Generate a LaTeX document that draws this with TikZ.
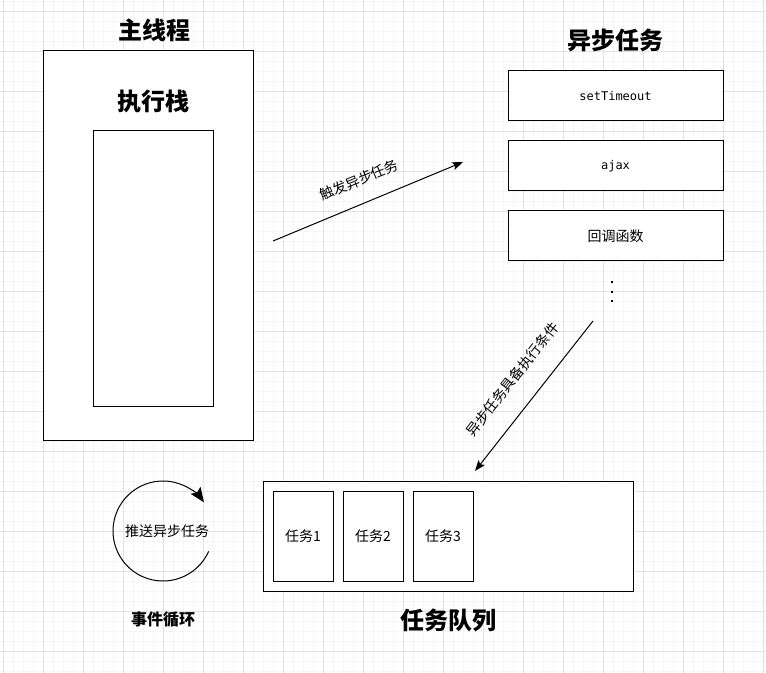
\documentclass[tikz,border=0pt]{standalone}
\usepackage{fontspec}
\setmainfont{Noto Sans CJK SC}
\setmonofont{DejaVu Sans Mono}
\usepackage{tikz}
\usetikzlibrary{positioning,arrows.meta}
\definecolor{gridminor}{RGB}{246, 246, 246}
\definecolor{gridmajor}{RGB}{226, 226, 226}

\begin{document}
\begin{tikzpicture}[
    x=0.75pt, y=-0.75pt,
    node distance=7.5pt,
    box/.style={
        rectangle, draw=black, fill=white,
        line width=0.75pt, inner sep=0pt, outer sep=0pt
    },
    title/.style={font=\fontsize{18}{21}\selectfont\bfseries},
    subtitle/.style={font=\fontsize{12}{14}\selectfont\bfseries},
    label/.style={font=\fontsize{10.5}{12}\selectfont},
    code/.style={font=\ttfamily\fontsize{9}{11}\selectfont},
    arrow/.style={-{Stealth[length=8pt, width=6pt, inset=1.5pt]}, line width=0.75pt},
    looparrow/.style={-{Stealth[length=11pt, width=9pt, inset=2pt]}, line width=0.75pt}
]
    % background grid
    \fill[white] (0,0) rectangle (766,673);
    \useasboundingbox (0,0) rectangle (766,673);
    \foreach \x in {3,13,...,763}
        \draw[gridminor, line width=0.75pt] (\x,0) -- (\x,673);
    \foreach \y in {1.7,11.7,...,671.7}
        \draw[gridminor, line width=0.75pt] (0,\y) -- (766,\y);
    \foreach \x in {3,43,...,763}
        \draw[gridmajor, line width=0.75pt] (\x,0) -- (\x,673);
    \foreach \y in {11.7,51.7,...,671.7}
        \draw[gridmajor, line width=0.75pt] (0,\y) -- (766,\y);

    % main thread
    \node[title] (mainT) at (154,30) {主线程};
    \node[box, minimum width=157.5pt, minimum height=291.75pt] (main) at (148,245.5) {};
    \node[title] (stackT) at (153,101) {执行栈};
    \node[box, minimum width=90pt, minimum height=206.25pt] (stack) at (153,268.5) {};

    % async tasks
    \node[title] (asyncT) at (615,40) {异步任务};
    \node[box, code, minimum width=161.25pt, minimum height=37.5pt] (a1) at (615.5,96) {setTimeout};
    \node[box, code, minimum width=161.25pt, minimum height=37.5pt, below=15pt of a1] (a2) {ajax};
    \node[box, label, minimum width=161.25pt, minimum height=37.5pt, below=15pt of a2] (a3) {回调函数};
    \foreach \y in {282,291.5,301}
        \fill (611,\y-1) rectangle (613,\y+1);

    % task queue
    \node[box, minimum width=277.5pt, minimum height=82.5pt] (queue) at (448,536) {};
    \node[box, label, minimum width=45pt, minimum height=67.5pt] (t1) at (303,536) {任务1};
    \node[box, label, minimum width=45pt, minimum height=67.5pt, right=of t1] (t2) {任务2};
    \node[box, label, minimum width=45pt, minimum height=67.5pt, right=of t2] (t3) {任务3};
    \node[title] (queueT) at (448,620) {任务队列};

    % event loop
    \coordinate (loop) at (163,531);
    \node[label] (push) at (167,531) {推送异步任务};
    \node[subtitle] (loopT) at (163,620) {事件循环};
    \draw[looparrow] ([shift={(-24:37.5pt)}]loop) arc[start angle=-24, end angle=-325, radius=37.5pt];

    % connectors
    \coordinate (c1) at (273,241);
    \coordinate (c2) at (463,162);
    \coordinate (c3) at (593,321);
    \coordinate (c4) at (475,471);
    \draw[arrow] (c1) -- node[label, pos=0.5, sloped, above=9pt] {触发异步任务} (c2);
    \draw[arrow] (c3) -- node[label, pos=0.5, sloped, above=12pt] {异步任务具备执行条件} (c4);
\end{tikzpicture}
\end{document}
